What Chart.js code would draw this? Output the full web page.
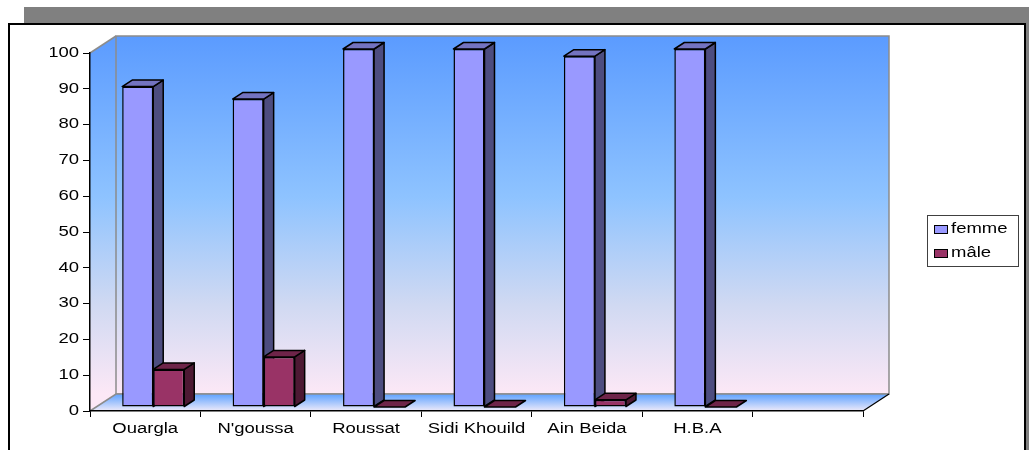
<!DOCTYPE html>
<html>
<head>
<meta charset="utf-8">
<script src="https://cdn.jsdelivr.net/npm/chart.js@4.4.1/dist/chart.umd.min.js"></script>
<style>
  html, body { margin: 0; padding: 0; background: #fff; }
  canvas { display: block; }
</style>
</head>
<body>
<canvas id="chart" width="1029" height="450"></canvas>
<script>
// Sites and percentages by sex
const categories = ['Ouargla', "N'goussa", 'Roussat', 'Sidi Khouild', 'Ain Beida', 'H.B.A', ''];
const femme = [89.5, 86, 100, 100, 98, 100, null];
const male = [10.5, 14, 0, 0, 2, 0, null];
const seriesNames = ['femme', 'mâle'];
const yMin = 0, yMax = 100, yStep = 10;

// Colours of each series: front face, right side, top
const frontColors = ['#9999FF', '#993366'];
const sideColors = ['#4D4D80', '#4D1933'];
const topColors = ['#7373C0', '#6E2449'];

// Perspective offsets: walls/floor depth, bar row position, bar depth
const WALL = { x: 26, y: -17 };
const ROW = { x: 8, y: -4 };
const BAR = { x: 10, y: -6.5 };
const TEXT_SX = 1.32;
const FONT = '"Liberation Sans", Arial, sans-serif';

const canvas = document.getElementById('chart');
const ctx2d = canvas.getContext('2d');
// Wide lettering: every label is drawn horizontally stretched
const nativeFillText = ctx2d.fillText;
ctx2d.fillText = function (t, x, y) {
  this.save();
  this.translate(x, y);
  this.scale(TEXT_SX, 1);
  nativeFillText.call(this, t, 0, 0);
  this.restore();
};

function poly(c, pts, fill, stroke, lw) {
  c.beginPath();
  c.moveTo(pts[0][0], pts[0][1]);
  for (let i = 1; i < pts.length; i++) c.lineTo(pts[i][0], pts[i][1]);
  c.closePath();
  if (fill) { c.fillStyle = fill; c.fill(); }
  if (stroke) { c.strokeStyle = stroke; c.lineWidth = lw || 1; c.stroke(); }
}

const backdrop = {
  id: 'backdrop',
  beforeDraw(chart) {
    const c = chart.ctx, a = chart.chartArea;
    c.save();
    // shadowed frame
    c.fillStyle = '#808080';
    c.fillRect(24, 7, 1005, 443);
    c.fillStyle = '#ffffff';
    c.fillRect(8, 23, 1017, 440);
    c.strokeStyle = '#000';
    c.lineWidth = 2;
    c.strokeRect(9, 24, 1016, 440);

    const L = a.left, R = a.right, T = a.top, B = a.bottom;
    const wx = WALL.x, wy = WALL.y;
    const g = c.createLinearGradient(0, T + wy, 0, B + wy);
    g.addColorStop(0, '#5B9BFF');
    g.addColorStop(0.45, '#8EC3FF');
    g.addColorStop(0.75, '#D0D9F2');
    g.addColorStop(1, '#FCE8F6');
    // side wall
    poly(c, [[L, T], [L + wx, T + wy], [L + wx, B + wy], [L, B]], g);
    // back wall
    poly(c, [[L + wx, T + wy], [R + wx, T + wy], [R + wx, B + wy], [L + wx, B + wy]], g, '#8C8C8C', 1.5);
    c.strokeStyle = '#8C8C8C'; c.lineWidth = 1.5;
    c.beginPath(); c.moveTo(L, T); c.lineTo(L + wx, T + wy); c.stroke();
    // floor
    const fg = c.createLinearGradient(0, B + wy, 0, B);
    fg.addColorStop(0, '#5EA2FF');
    fg.addColorStop(1, '#EEEAFA');
    poly(c, [[L, B], [R, B], [R + wx, B + wy], [L + wx, B + wy]], fg);
    c.strokeStyle = '#8C8C8C'; c.lineWidth = 1.5;
    c.beginPath(); c.moveTo(L, B); c.lineTo(L + wx, B + wy); c.lineTo(R + wx, B + wy); c.stroke();
    c.strokeStyle = '#000'; c.lineWidth = 1.2;
    c.beginPath(); c.moveTo(R, B); c.lineTo(R + wx, B + wy); c.stroke();
    c.restore();
  }
};

// Bars are painted series by series, left to right, each with its side and top faces,
// so that every box correctly hides the one behind it.
const bars3d = {
  id: 'bars3d',
  beforeDatasetsDraw(chart) {
    const c = chart.ctx;
    c.save();
    c.translate(ROW.x, ROW.y);
    c.lineJoin = 'round';
    chart.data.datasets.forEach((ds, k) => {
      const meta = chart.getDatasetMeta(k);
      if (!meta.visible) return;
      meta.data.forEach((el, i) => {
        if (ds.data[i] == null) return;
        el.draw(c);
        const p = el.getProps(['x', 'y', 'base', 'width'], true);
        const L = p.x - p.width / 2, R = p.x + p.width / 2;
        const T = Math.min(p.y, p.base), B = Math.max(p.y, p.base);
        if (B - T > 0.5) {
          poly(c, [[R, T], [R + BAR.x, T + BAR.y], [R + BAR.x, B + BAR.y], [R, B]], sideColors[k], '#000', 1.5);
        }
        poly(c, [[L, T], [L + BAR.x, T + BAR.y], [R + BAR.x, T + BAR.y], [R, T]], topColors[k], '#000', 1.5);
      });
    });
    c.restore();
    return false;
  }
};

const legendBox = {
  id: 'legendBox',
  afterDraw(chart) {
    const c = chart.ctx;
    c.save();
    c.strokeStyle = '#404040';
    c.lineWidth = 1;
    c.strokeRect(927.5, 215.5, 91, 51);
    c.font = '14px ' + FONT;
    c.textAlign = 'left';
    c.textBaseline = 'middle';
    chart.data.datasets.forEach((ds, i) => {
      const y = 225 + i * 24;
      c.fillStyle = frontColors[i];
      c.fillRect(934, y, 14, 9);
      c.strokeStyle = '#000';
      c.strokeRect(934.5, y + 0.5, 13, 8);
      c.fillStyle = '#000';
      c.fillText(ds.label, 951, y + 4.5);
    });
    c.restore();
  }
};

new Chart(canvas, {
  type: 'bar',
  data: {
    labels: categories,
    datasets: [
      { label: seriesNames[0], data: femme, backgroundColor: frontColors[0] },
      { label: seriesNames[1], data: male, backgroundColor: frontColors[1] }
    ]
  },
  options: {
    responsive: false,
    animation: false,
    events: [],
    layout: { padding: { left: 50, right: 166, top: 53, bottom: 0 } },
    datasets: {
      bar: {
        borderColor: '#000',
        borderWidth: 1.5,
        borderSkipped: false,
        categoryPercentage: 0.562,
        barPercentage: 1.0,
        clip: false
      }
    },
    plugins: { legend: { display: false }, tooltip: { enabled: false }, title: { display: false } },
    scales: {
      x: {
        afterFit(s) { s.height = 39; },
        grid: { offset: true, drawOnChartArea: false, drawTicks: true, tickLength: 6, color: '#000', lineWidth: 1 },
        border: { display: true, color: '#000', width: 1.5 },
        ticks: { color: '#000', padding: 4, maxRotation: 0, autoSkip: false, font: { family: FONT, size: 14 } }
      },
      y: {
        min: yMin, max: yMax,
        afterFit(s) { s.width = 40; },
        grid: { drawOnChartArea: false, drawTicks: true, tickLength: 7, color: '#000', lineWidth: 1 },
        border: { display: true, color: '#000', width: 1.5 },
        ticks: { stepSize: yStep, color: '#000', padding: 4, font: { family: FONT, size: 14 } }
      }
    }
  },
  plugins: [backdrop, bars3d, legendBox]
});
</script>
</body>
</html>
